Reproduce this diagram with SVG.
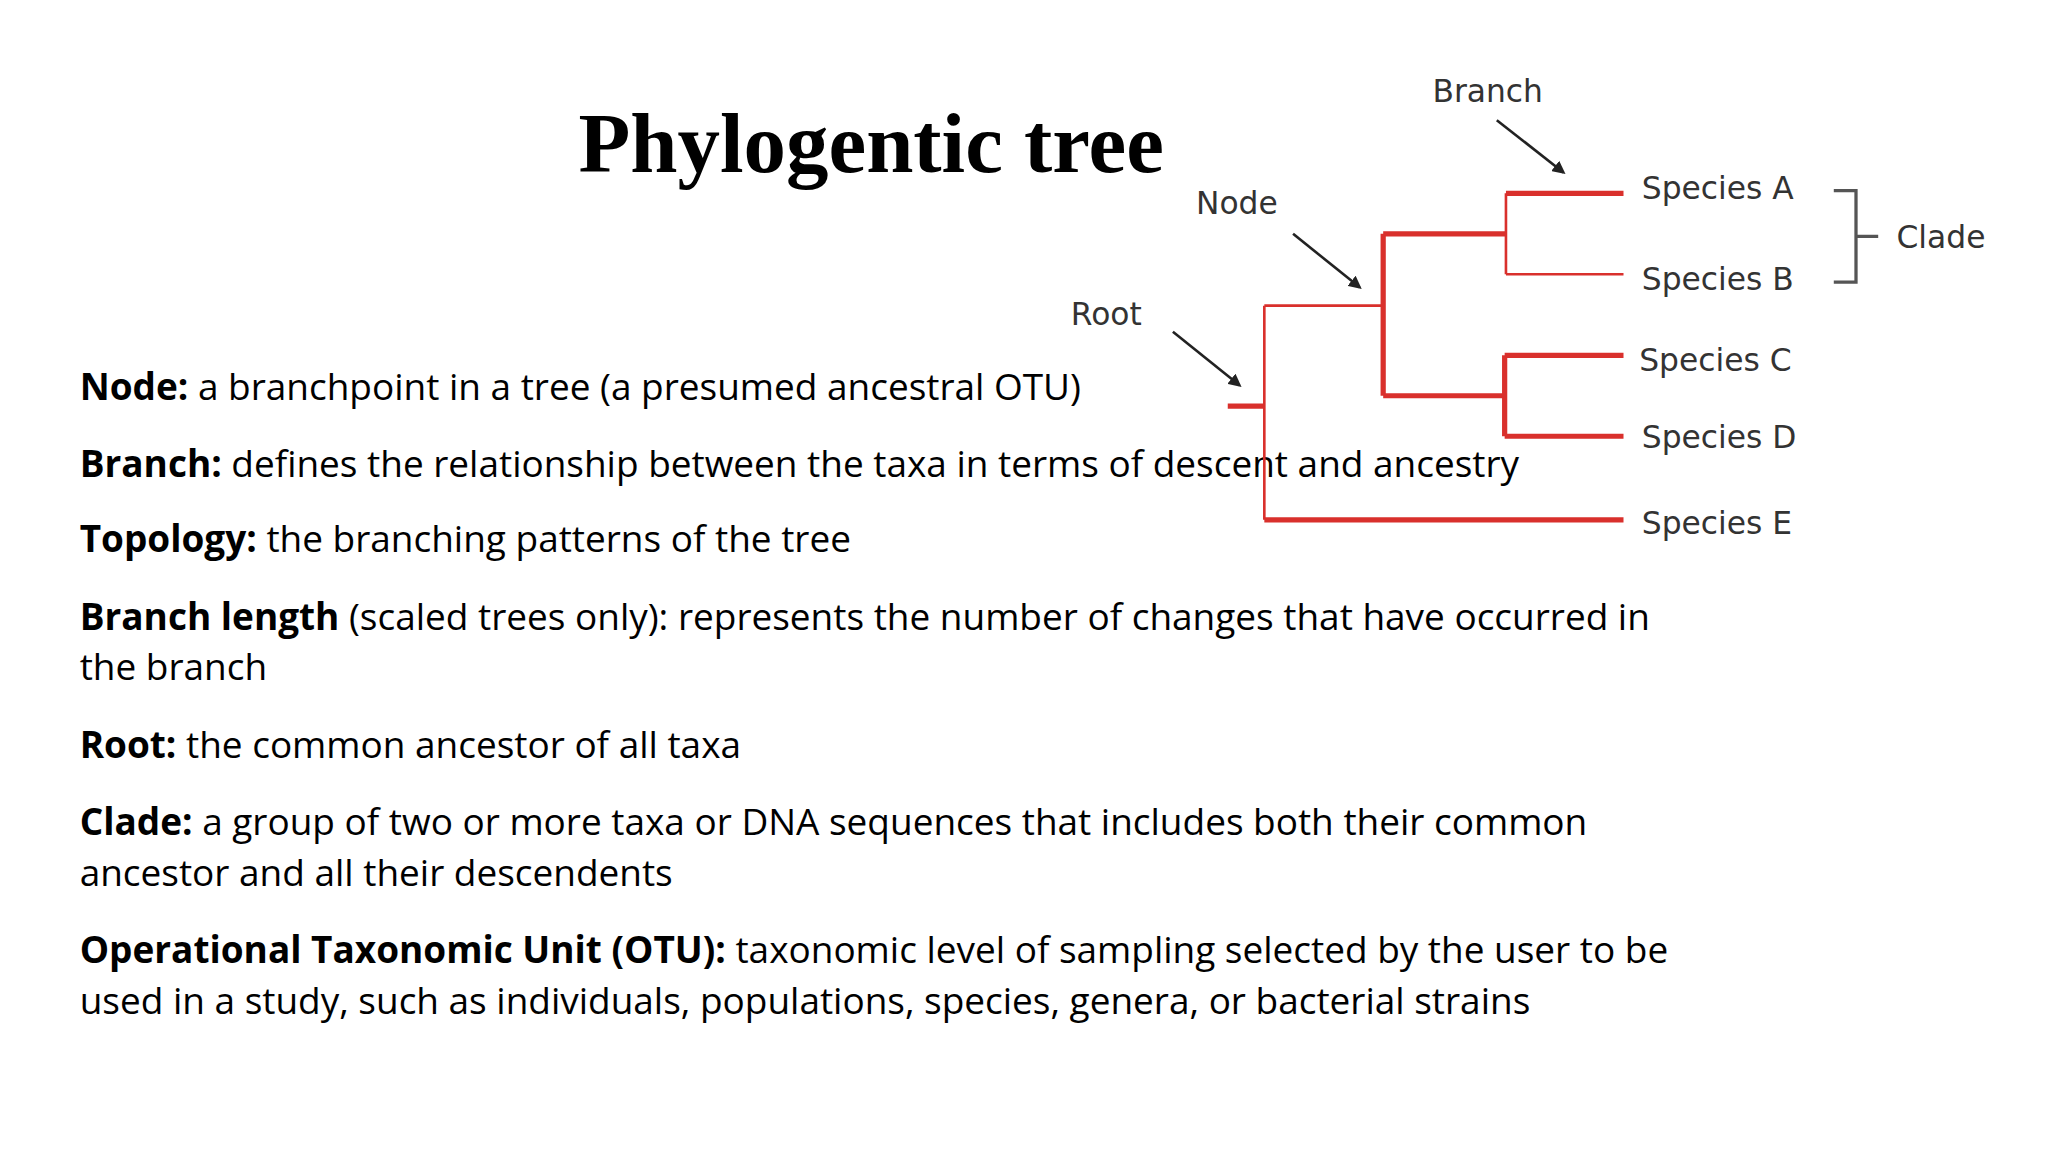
<svg xmlns="http://www.w3.org/2000/svg" width="2048" height="1152" viewBox="0 0 2048 1152">
<style>
.t{font-family:"Open Sans","Liberation Sans",sans-serif;font-size:28.3px;fill:#000}
.b{font-weight:bold}
.lab{font-family:"DejaVu Sans","Liberation Sans",sans-serif;font-size:24px;fill:#333}
.thick{stroke:#d9302c;stroke-width:4;fill:none}
.thin{stroke:#d9302c;stroke-width:2;fill:none}
.arr{stroke:#222;stroke-width:2;fill:none;marker-end:url(#ah)}
</style>
<defs><marker id="ah" markerWidth="10" markerHeight="10" refX="8" refY="5" orient="auto" markerUnits="userSpaceOnUse"><path d="M0,0 L10,5 L0,10 z" fill="#222"/></marker></defs>
<rect width="2048" height="1152" fill="#fff"/>
<g transform="scale(1.30612)">
<g id="title"><text x="667" y="132" text-anchor="middle" style="font-family:'Liberation Serif',serif;font-weight:bold;font-size:65px">Phylogentic tree</text></g>
<g id="body">
<text class="t" x="61" y="306"><tspan class="b">Node:</tspan> a branchpoint in a tree (a presumed ancestral OTU)</text>
<text class="t" x="61" y="365"><tspan class="b">Branch:</tspan> defines the relationship between the taxa in terms of descent and ancestry</text>
<text class="t" x="61" y="423"><tspan class="b">Topology:</tspan> the branching patterns of the tree</text>
<text class="t" x="61" y="482"><tspan class="b">Branch length</tspan> (scaled trees only): represents the number of changes that have occurred in</text>
<text class="t" x="61" y="521">the branch</text>
<text class="t" x="61" y="580"><tspan class="b">Root:</tspan> the common ancestor of all taxa</text>
<text class="t" x="61" y="639"><tspan class="b">Clade:</tspan> a group of two or more taxa or DNA sequences that includes both their common</text>
<text class="t" x="61" y="678">ancestor and all their descendents</text>
<text class="t" x="61" y="737"><tspan class="b">Operational Taxonomic Unit (OTU):</tspan> taxonomic level of sampling selected by the user to be</text>
<text class="t" x="61" y="776">used in a study, such as individuals, populations, species, genera, or bacterial strains</text>
</g>
<g id="connectors">
<path class="thick" d="M940,311 H968"/>
<path class="thin" d="M968,234 V398 M968,234 H1059"/>
<path class="thick" d="M968,398 H1243"/>
<path class="thick" d="M1059,179 V303 M1059,179 H1153 M1059,303 H1152"/>
<path class="thin" d="M1153,148 V210 M1153,210 H1243"/>
<path class="thick" d="M1153,148 H1243"/>
<path class="thick" d="M1152,272 V334 M1152,272 H1243 M1152,334 H1243"/>
<path stroke="#555" stroke-width="2.5" fill="none" d="M1404,146 H1421 V216 H1404 M1421,181 H1438"/>
<path class="arr" d="M1146,92 L1197,132"/>
<path class="arr" d="M990,179 L1041,220"/>
<path class="arr" d="M898,254 L949,295"/>
</g>
<g id="labels">
<text class="lab" x="1139" y="78" text-anchor="middle">Branch</text>
<text class="lab" x="947" y="164" text-anchor="middle">Node</text>
<text class="lab" x="847" y="249" text-anchor="middle">Root</text>
<text class="lab" x="1452" y="190">Clade</text>
</g>
<g id="sA"><text class="lab" x="1257" y="152">Species A</text></g>
<g id="sB"><text class="lab" x="1257" y="222">Species B</text></g>
<g id="sC"><text class="lab" x="1255" y="284">Species C</text></g>
<g id="sD"><text class="lab" x="1257" y="343">Species D</text></g>
<g id="sE"><text class="lab" x="1257" y="409">Species E</text></g>
</g>
</svg>
